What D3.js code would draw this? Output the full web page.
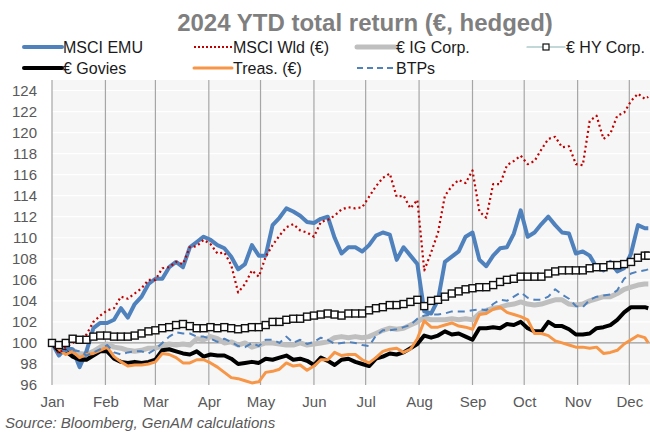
<!DOCTYPE html>
<html>
<head>
<meta charset="utf-8">
<script src="https://cdn.jsdelivr.net/npm/d3@7"></script>
<style>
    body { margin: 0; background: #fff; }
    svg { font-family: "Liberation Sans", Arial, sans-serif; }
</style>
</head>
<body>
<div id="chart"></div>
<script>
const dates = [
    "2024-01-01","2024-01-05","2024-01-09","2024-01-13","2024-01-17","2024-01-21","2024-01-25","2024-01-29",
    "2024-02-02","2024-02-06","2024-02-10","2024-02-14","2024-02-18","2024-02-22","2024-02-26",
    "2024-03-01","2024-03-05","2024-03-09","2024-03-13","2024-03-17","2024-03-21","2024-03-25","2024-03-29",
    "2024-04-02","2024-04-06","2024-04-10","2024-04-14","2024-04-18","2024-04-22","2024-04-26","2024-04-30",
    "2024-05-04","2024-05-08","2024-05-12","2024-05-16","2024-05-20","2024-05-24","2024-05-28",
    "2024-06-01","2024-06-05","2024-06-09","2024-06-13","2024-06-17","2024-06-21","2024-06-25","2024-06-29",
    "2024-07-03","2024-07-07","2024-07-11","2024-07-15","2024-07-19","2024-07-23","2024-07-27","2024-07-31",
    "2024-08-04","2024-08-08","2024-08-12","2024-08-16","2024-08-20","2024-08-24","2024-08-28",
    "2024-09-01","2024-09-05","2024-09-09","2024-09-13","2024-09-17","2024-09-21","2024-09-25","2024-09-29",
    "2024-10-03","2024-10-07","2024-10-11","2024-10-15","2024-10-19","2024-10-23","2024-10-27","2024-10-31",
    "2024-11-04","2024-11-08","2024-11-12","2024-11-16","2024-11-20","2024-11-24","2024-11-28",
    "2024-12-02","2024-12-06","2024-12-10","2024-12-12"
];

const msciEmu = [
    100.0, 98.8, 99.5, 99.4, 97.7, 99.2, 101.4, 101.9, 101.9, 102.2, 103.3, 102.4, 103.7, 104.4, 105.6, 106.1, 106.1, 107.2, 107.7, 107.2, 109.1,
    109.6, 110.1, 109.8, 109.3, 109.0, 108.2, 107.0, 107.5, 109.3, 108.3, 108.3, 111.2, 111.9, 112.8, 112.5, 112.1, 111.5, 111.4, 111.8, 112.0, 110.0,
    108.5, 109.1, 109.1, 108.7, 109.3, 110.2, 110.5, 110.3, 107.9, 109.1, 108.3, 107.5, 103.0, 102.8, 104.1, 107.7, 108.2, 108.7, 110.1, 110.5, 107.9, 107.3,
    108.3, 109.0, 109.1, 110.4, 112.6, 110.1, 110.5, 111.3, 112.0, 111.2, 110.5, 110.4, 108.5, 108.7, 108.3, 107.2, 106.9, 107.7, 106.8, 107.1, 108.5, 111.2, 110.9, 110.9
];
const msciWld = [
    100.0, 99.0, 99.6, 100.0, 100.3, 100.8, 102.0, 102.6, 103.1, 103.3, 104.4, 104.2, 104.7, 105.2, 106.0, 106.0, 107.1, 107.2, 107.7, 107.5, 109.1,
    109.2, 109.8, 109.4, 108.5, 108.6, 107.4, 104.8, 105.6, 106.9, 106.3, 108.2, 109.3, 110.2, 111.0, 111.3, 110.7, 110.5, 110.1, 111.5, 111.7, 112.1,
    112.7, 112.9, 112.8, 112.9, 113.9, 114.9, 115.7, 116.1, 113.9, 114.0, 112.8, 113.6, 106.9, 108.6, 110.5, 114.0, 114.9, 115.5, 115.2, 116.4, 112.5, 111.9,
    115.1, 115.1, 116.9, 117.3, 117.8, 117.0, 117.3, 118.4, 119.4, 119.6, 118.6, 118.7, 117.0, 116.9, 121.1, 121.6, 119.4, 119.9, 121.6, 121.9, 123.0, 123.7, 123.2, 123.4
];
const igCorp = [
    100.0, 99.6, 99.5, 99.3, 99.0, 98.9, 99.2, 99.6, 99.9, 99.6, 99.5, 99.3, 99.2, 99.3, 99.5, 99.5, 99.7, 99.9, 99.8, 99.9, 99.8,
    100.4, 100.3, 100.6, 100.4, 100.0, 100.1, 99.8, 100.0, 99.6, 99.8, 100.0, 100.0, 99.9, 99.8, 99.8, 100.0, 99.8, 99.9, 100.0, 100.1, 100.5,
    100.6, 100.5, 100.6, 100.5, 100.6, 100.9, 101.2, 101.4, 101.3, 101.4, 101.7, 102.0, 102.4, 102.2, 102.2, 102.2, 102.3, 102.2, 102.3, 102.2, 102.8, 103.1,
    103.3, 103.4, 103.6, 103.7, 103.9, 103.7, 103.6, 103.7, 103.9, 104.1, 104.1, 103.7, 103.6, 103.7, 104.0, 104.2, 104.4, 104.4, 104.7, 105.1, 105.3, 105.5, 105.6, 105.6
];
const hyCorp = [
    100.0, 99.8, 100.0, 100.4, 100.3, 100.3, 100.6, 100.7, 100.7, 100.6, 100.6, 100.6, 100.7, 100.9, 101.1, 101.2, 101.4, 101.5, 101.7, 101.8, 101.6,
    101.4, 101.4, 101.5, 101.4, 101.5, 101.4, 101.3, 101.4, 101.5, 101.5, 101.7, 102.0, 102.0, 102.2, 102.3, 102.3, 102.5, 102.6, 102.7, 102.8, 102.7,
    102.6, 102.8, 102.8, 102.8, 103.1, 103.3, 103.4, 103.6, 103.6, 103.7, 103.9, 104.1, 103.5, 104.0, 104.1, 104.4, 104.7, 104.9, 105.1, 105.2, 105.3, 105.3,
    105.5, 105.8, 106.0, 106.1, 106.3, 106.3, 106.3, 106.3, 106.6, 106.8, 106.9, 106.9, 106.9, 106.9, 107.1, 107.2, 107.2, 107.4, 107.4, 107.5, 107.7, 108.1, 108.3, 108.3
];
const govies = [
    100.0, 99.2, 99.2, 98.7, 98.4, 98.4, 98.8, 99.2, 99.2, 98.5, 98.2, 98.1, 98.2, 98.1, 98.2, 98.4, 99.3, 99.4, 99.2, 99.0, 98.9,
    99.2, 98.7, 98.9, 98.8, 98.8, 98.5, 98.0, 98.1, 98.2, 98.1, 98.5, 98.4, 98.6, 98.8, 98.4, 98.5, 98.3, 97.9, 98.6, 98.3, 97.9,
    98.4, 98.5, 98.2, 98.0, 97.8, 98.5, 98.7, 99.0, 98.9, 99.1, 99.5, 99.9, 100.7, 100.5, 100.7, 101.1, 100.8, 100.9, 100.6, 100.3, 101.4, 101.4,
    101.5, 101.4, 101.8, 101.7, 102.0, 101.4, 101.1, 101.1, 102.0, 101.6, 101.6, 101.3, 100.8, 100.8, 100.9, 101.4, 101.5, 101.7, 102.2, 102.9, 103.4, 103.4, 103.4, 103.3
];
const treas = [
    100.0, 99.4, 98.9, 99.2, 98.6, 98.9, 99.0, 99.3, 99.6, 98.7, 98.2, 97.8, 97.9, 97.9, 98.0, 98.2, 99.0, 98.9, 98.6, 98.1, 98.1,
    98.4, 98.4, 98.1, 97.7, 97.2, 96.7, 96.6, 96.4, 96.2, 96.3, 97.2, 97.3, 97.5, 98.1, 97.8, 97.9, 97.4, 97.8, 98.4, 98.4, 99.1,
    98.8, 98.9, 98.9, 98.4, 98.1, 98.6, 99.2, 99.4, 99.5, 99.1, 99.4, 100.4, 102.1, 101.5, 101.5, 101.7, 101.9, 101.6, 101.5, 101.3, 102.7, 102.8,
    103.2, 103.4, 102.9, 102.7, 102.5, 102.2, 100.9, 100.9, 100.7, 100.2, 100.0, 99.8, 99.6, 99.6, 99.5, 99.6, 99.0, 99.1, 99.3, 99.9, 100.3, 100.7, 100.5, 100.0
];
const btp = [
    100.0, 99.3, 99.2, 99.3, 99.2, 98.8, 99.1, 99.4, 99.8, 99.1, 98.9, 99.1, 99.2, 99.2, 99.0, 99.4, 100.0, 100.6, 101.0, 100.9, 100.9,
    100.6, 100.6, 100.4, 100.1, 100.4, 100.1, 99.7, 99.6, 100.0, 99.7, 100.3, 100.3, 100.0, 100.6, 100.0, 100.3, 99.9, 100.1, 100.5, 100.3, 99.9,
    100.0, 100.1, 100.0, 99.8, 99.7, 100.7, 101.2, 101.2, 101.3, 101.5, 101.7, 102.3, 102.6, 102.7, 102.7, 102.8, 103.0, 103.0, 103.0, 103.1, 103.2, 103.1,
    103.7, 104.1, 104.0, 104.4, 104.8, 104.3, 104.1, 104.1, 104.4, 105.1, 104.6, 104.2, 103.5, 103.4, 104.1, 104.4, 104.5, 104.6, 105.0, 106.1, 106.6, 106.8, 106.9, 107.0
];

const yTicks = [96, 98, 100, 102, 104, 106, 108, 110, 112, 114, 116, 118, 120, 122, 124];
const monthLabels = ["Jan", "Feb", "Mar", "Apr", "May", "Jun", "Jul", "Aug", "Sep", "Oct", "Nov", "Dec"];

const blue = '#4f81bd';
const red = '#c00000';
const grey = '#bfbfbf';
const orange = '#f79646';

function drawChart() {
    const width = 650, height = 433;
    const plot = {left: 52, right: 650, top: 80, bottom: 385};

    const svg = d3.select("#chart")
        .append("svg")
        .attr("width", width)
        .attr("height", height);

    const parse = d3.timeParse("%Y-%m-%d");
    const days = dates.map(parse);

    const x = d3.scaleTime()
        .domain([new Date(2024, 0, 1), new Date(2024, 11, 13)])
        .range([plot.left, plot.right]);
    const y = d3.scaleLinear()
        .domain([96, 125])
        .range([plot.bottom, plot.top]);

    // plot background + gridlines
    svg.append("rect")
        .attr("x", plot.left).attr("y", plot.top)
        .attr("width", plot.right - plot.left).attr("height", plot.bottom - plot.top)
        .attr("fill", "#f6f6f6");

    svg.append("g")
        .selectAll("line")
        .data(yTicks)
        .enter()
        .append("line")
        .attr("x1", plot.left).attr("x2", plot.right)
        .attr("y1", d => y(d)).attr("y2", d => y(d))
        .attr("stroke", "#fff")
        .attr("stroke-width", 1.2);

    const monthStarts = monthLabels.map((m, i) => new Date(2024, i, 1));
    svg.append("g")
        .selectAll("line")
        .data(monthStarts)
        .enter()
        .append("line")
        .attr("x1", d => x(d)).attr("x2", d => x(d))
        .attr("y1", plot.top).attr("y2", plot.bottom)
        .attr("stroke", "#a6a6a6")
        .attr("stroke-width", 1.2);

    // axis line crosses at 100
    svg.append("line")
        .attr("x1", plot.left).attr("x2", plot.right)
        .attr("y1", y(100)).attr("y2", y(100))
        .attr("stroke", "#999")
        .attr("stroke-width", 1.2);

    // y axis labels
    const yAxis = svg.append("g")
        .attr("transform", `translate(${plot.left}, 0)`)
        .call(d3.axisLeft(y).tickValues(yTicks).tickSize(0).tickPadding(15));
    yAxis.select(".domain").remove();
    yAxis.selectAll("text")
        .style("font-size", "15px")
        .style("font-family", '"Liberation Sans", Arial, sans-serif')
        .attr("fill", "#595959");

    // month labels
    const xAxis = svg.append("g")
        .attr("transform", `translate(0, ${plot.bottom})`)
        .call(d3.axisBottom(x).tickValues(monthStarts).tickSize(0).tickPadding(11)
            .tickFormat((d, i) => monthLabels[i]));
    xAxis.select(".domain").remove();
    xAxis.selectAll("text")
        .style("font-size", "15px")
        .style("font-family", '"Liberation Sans", Arial, sans-serif')
        .attr("fill", "#595959");

    const line = d3.line()
        .x((d, i) => x(days[i]))
        .y(d => y(d));

    const drawSeries = (values, color, w, dash) => {
        svg.append("path")
            .datum(values)
            .attr("d", line)
            .attr("fill", "none")
            .attr("stroke", color)
            .attr("stroke-width", w)
            .attr("stroke-linejoin", "round")
            .attr("stroke-dasharray", dash || null);
    };

    drawSeries(igCorp, grey, 5);
    drawSeries(msciEmu, blue, 4);
    drawSeries(govies, "#000", 4);
    drawSeries(treas, orange, 3);
    drawSeries(btp, blue, 2, "7 5");
    drawSeries(msciWld, red, 2.2, "2 3");

    // HY: thin line with square markers
    drawSeries(hyCorp, "#111", 1.5);
    svg.append("g")
        .selectAll("rect")
        .data(hyCorp)
        .enter()
        .append("rect")
        .attr("x", (d, i) => x(days[i]) - 3.5)
        .attr("y", d => y(d) - 3.5)
        .attr("width", 7).attr("height", 7)
        .attr("fill", "#fff")
        .attr("stroke", "#111")
        .attr("stroke-width", 1.4);

    // title
    svg.append("text")
        .attr("x", 365).attr("y", 31)
        .attr("text-anchor", "middle")
        .style("font-size", "24px")
        .style("font-weight", "bold")
        .attr("fill", "#7f7f7f")
        .text("2024 YTD total return (€, hedged)");

    // legend
    const legend = [
        {name: "MSCI EMU", color: blue, w: 4, x: 24, y: 47},
        {name: "MSCI Wld (€)", color: red, w: 2, dash: "2 2", x: 194, y: 47},
        {name: "€ IG Corp.", color: grey, w: 5, x: 357, y: 47},
        {name: "€ HY Corp.", color: "#86b0b0", w: 1.2, x: 527, y: 47, marker: true},
        {name: "€ Govies", color: "#000", w: 4, x: 24, y: 68},
        {name: "Treas. (€)", color: orange, w: 3, x: 194, y: 68},
        {name: "BTPs", color: blue, w: 2, dash: "6 4", x: 357, y: 68}
    ];
    const items = svg.append("g").selectAll("g")
        .data(legend)
        .enter()
        .append("g")
        .attr("transform", d => `translate(${d.x}, ${d.y})`);
    items.append("line")
        .attr("x1", 0).attr("x2", 38)
        .attr("stroke", d => d.color)
        .attr("stroke-width", d => d.w)
        .attr("stroke-linecap", d => d.dash ? "butt" : "round")
        .attr("stroke-dasharray", d => d.dash || null);
    items.filter(d => d.marker)
        .append("rect")
        .attr("x", 16).attr("y", -3)
        .attr("width", 6).attr("height", 6)
        .attr("fill", "#fff")
        .attr("stroke", "#111")
        .attr("stroke-width", 1.2);
    items.append("text")
        .attr("x", 39).attr("y", 6)
        .style("font-size", "16px")
        .attr("fill", "#1a1a1a")
        .text(d => d.name);

    // source
    svg.append("text")
        .attr("x", 5).attr("y", 428)
        .style("font-size", "15px")
        .style("font-style", "italic")
        .attr("fill", "#595959")
        .text("Source: Bloomberg, GenAM calculations");
}

function main() {
    drawChart();
}

main();
</script>
</body>
</html>
